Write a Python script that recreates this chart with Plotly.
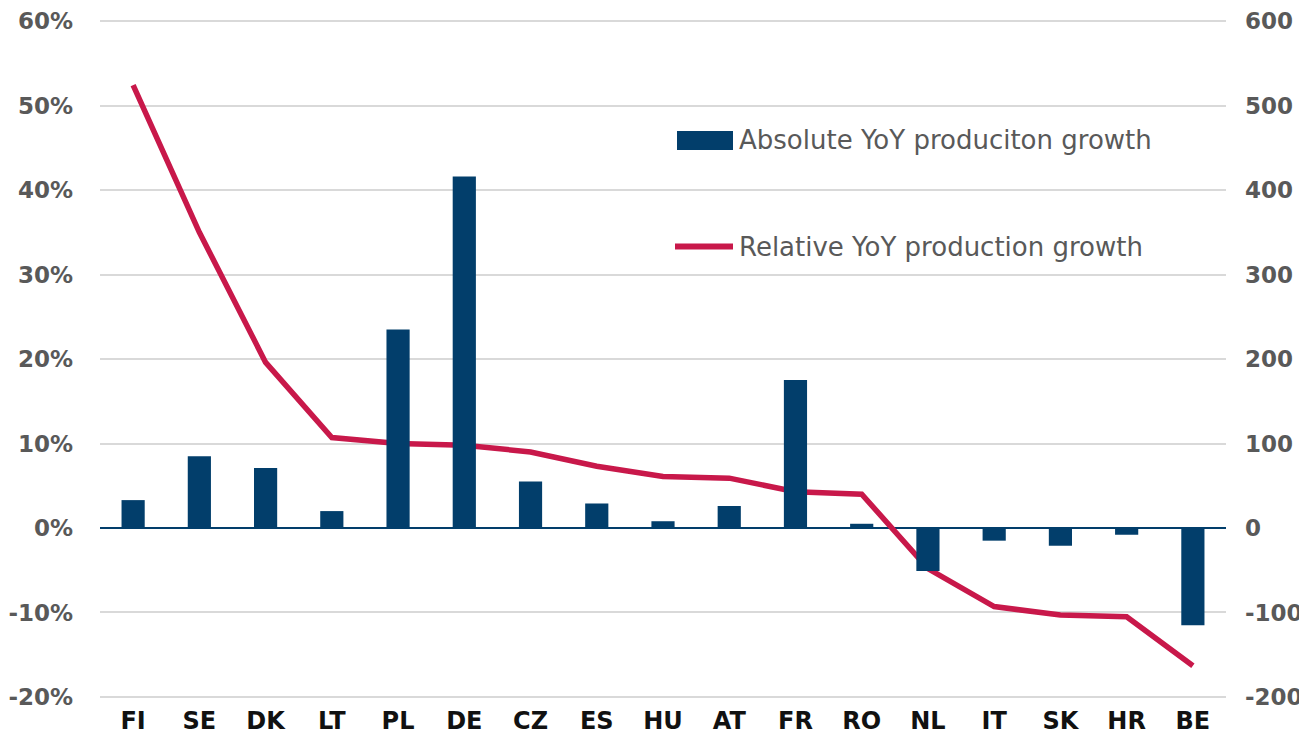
import plotly.graph_objects as go

countries = ["FI", "SE", "DK", "LT", "PL", "DE", "CZ", "ES", "HU", "AT",
             "FR", "RO", "NL", "IT", "SK", "HR", "BE"]
absolute_growth = [33, 85, 71, 20, 235, 416, 55, 29, 8, 26,
                   175, 5, -51, -15, -21, -8, -115]
relative_growth = [0.524, 0.350, 0.196, 0.107, 0.100, 0.098, 0.090, 0.073, 0.061, 0.059,
                   0.043, 0.040, -0.048, -0.093, -0.103, -0.105, -0.163]

pct_ticks = [-0.2, -0.1, 0.0, 0.1, 0.2, 0.3, 0.4, 0.5, 0.6]
pct_labels = ["-20%", "-10%", "0%", "10%", "20%", "30%", "40%", "50%", "60%"]
abs_ticks = [-200, -100, 0, 100, 200, 300, 400, 500, 600]
abs_labels = ["-200", "-100", "0", "100", "200", "300", "400", "500", "600"]

legend_labels = ["Absolute YoY produciton growth", "Relative YoY production growth"]

BAR_COLOR = "#023E6B"
LINE_COLOR = "#C8184A"
LABEL_GRAY = "#595959"
FONT = "DejaVu Sans"

# plot area in page pixels (the page body adds an 8px margin round the figure)
PX_L, PX_R, PX_T, PX_B = 100, 1226, 20, 698
BODY = 8
W, H = 1307, 748
EPS = 0.0015  # tiny padding so the edge gridlines are still drawn


def px_to_paper(x, y):
    return (x - PX_L) / (PX_R - PX_L), (PX_B - y) / (PX_B - PX_T)


fig = go.Figure()
fig.add_trace(go.Bar(
    x=countries, y=absolute_growth, name=legend_labels[0],
    marker=dict(color=BAR_COLOR, line=dict(width=0)),
    width=0.35, yaxis="y2", showlegend=False,
))
fig.add_trace(go.Scatter(
    x=countries, y=relative_growth, name=legend_labels[1],
    mode="lines", line=dict(color=LINE_COLOR, width=5.5),
    yaxis="y", showlegend=False,
))

# legend drawn by hand so the swatches match the wide Excel-style keys
x0, y0 = px_to_paper(677, 131)
x1, y1 = px_to_paper(733, 150)
fig.add_shape(type="rect", xref="paper", yref="paper", x0=x0, x1=x1, y0=y0, y1=y1,
              fillcolor=BAR_COLOR, line=dict(width=0))
lx0, ly = px_to_paper(675, 246.5)
lx1, _ = px_to_paper(733, 246.5)
fig.add_shape(type="line", xref="paper", yref="paper", x0=lx0, x1=lx1, y0=ly, y1=ly,
              line=dict(color=LINE_COLOR, width=6))
for label, py in zip(legend_labels, [140, 246.5]):
    tx, ty = px_to_paper(737, py)
    fig.add_annotation(x=tx, y=ty, xref="paper", yref="paper", text=label,
                       showarrow=False, xanchor="left", yanchor="middle",
                       font=dict(family=FONT, size=26, color=LABEL_GRAY))

fig.update_layout(
    width=W, height=H,
    margin=dict(l=PX_L - BODY, r=W + BODY - PX_R, t=PX_T - BODY, b=H + BODY - PX_B),
    paper_bgcolor="white", plot_bgcolor="white",
    xaxis=dict(
        tickfont=dict(family=FONT, size=24, color="#111111", weight="bold"),
        showgrid=False, showline=False, ticks="", ticklabelstandoff=6,
        automargin=False,
    ),
    yaxis=dict(
        range=[-0.2 - EPS * 0.8, 0.6 + EPS * 0.8],
        tickvals=pct_ticks, ticktext=pct_labels,
        tickfont=dict(family=FONT, size=23, color=LABEL_GRAY, weight="bold"),
        showgrid=True, gridcolor="#D9D9D9", gridwidth=2,
        zeroline=True, zerolinecolor=BAR_COLOR, zerolinewidth=2,
        showline=False, ticks="", ticklabelstandoff=26, automargin=False,
    ),
    yaxis2=dict(
        range=[-200 - EPS * 800, 600 + EPS * 800],
        tickvals=abs_ticks, ticktext=abs_labels,
        overlaying="y", side="right",
        tickfont=dict(family=FONT, size=23, color=LABEL_GRAY, weight="bold"),
        showgrid=False, zeroline=False, showline=False, ticks="",
        ticklabelstandoff=18, automargin=False,
    ),
)

fig.write_html("out.html")
